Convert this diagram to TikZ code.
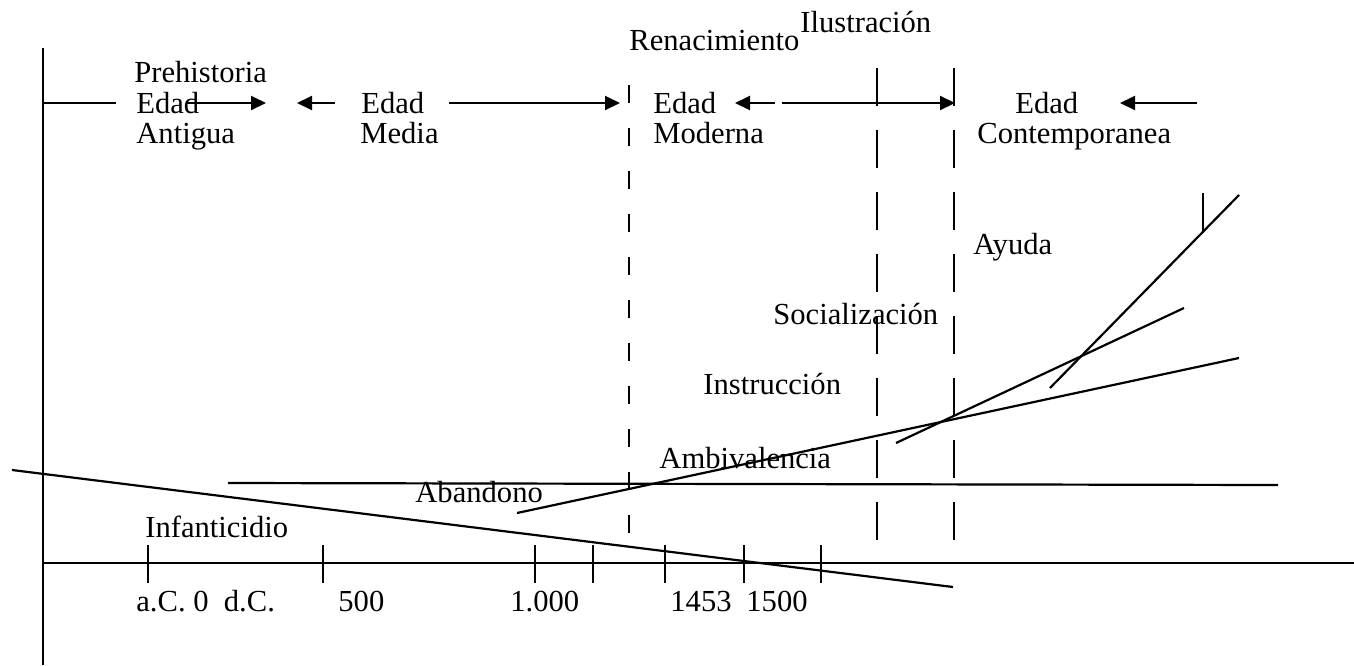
\documentclass[tikz,border=0pt]{standalone}
\usepackage{fontspec}
\setmainfont{Liberation Serif}
\usetikzlibrary{arrows.meta}

\begin{document}
\begin{tikzpicture}[x=0.5pt,y=-0.5pt,
    lbl/.style={anchor=base west,inner sep=0pt,font=\fontsize{15.3}{17}\selectfont},
    yearlbl/.style={anchor=base west,inner sep=0pt,font=\fontsize{15.3}{17}\selectfont},
    axisline/.style={line width=1pt},
    period/.style={line width=1pt,-{Triangle[length=7.5pt,width=7pt]}},
    shortguide/.style={line width=1pt,dash pattern=on 9pt off 12.5pt},
    longguide/.style={line width=1pt,dash pattern=on 19pt off 12pt},
    trend/.style={line width=1.1pt}]
  \useasboundingbox (0,0) rectangle (1354,665);
  %this draws the axes
  \coordinate (ytop) at (43,48);
  \coordinate (ybot) at (43,665);
  \coordinate (xleft) at (43,563);
  \coordinate (xright) at (1354,563);
  \draw[axisline] (ytop) -- (ybot);
  \draw[axisline] (xleft) -- (xright);
  \foreach \x in {148,323,535,593,665,744,821}
    \draw[axisline] (\x,545) -- (\x,583);
  %this draws the years
  \node [yearlbl] (y0) at (136,611) {a.C. 0\ \ d.C.};
  \node [yearlbl] (y500) at (338,611) {500};
  \node [yearlbl] (y1000) at (510,611) {1.000};
  \node [yearlbl] (y1453) at (670,611) {1453};
  \node [yearlbl] (y1500) at (746,611) {1500};
  %this draws the ages
  \node [lbl] (prehist) at (134,82) {Prehistoria};
  \node [lbl] (edadA) at (136,113) {Edad};
  \node [lbl] (antigua) at (136,143) {Antigua};
  \node [lbl] (edadM) at (361,113) {Edad};
  \node [lbl] (media) at (360,143) {Media};
  \node [lbl] (renac) at (629,50) {Renacimiento};
  \node [lbl] (edadMo) at (653,113) {Edad};
  \node [lbl] (moderna) at (653,143) {Moderna};
  \node [lbl] (ilust) at (800,32) {Ilustración};
  \node [lbl] (edadC) at (1015,113) {Edad};
  \node [lbl] (contemp) at (977,143) {Contemporanea};
  %this draws the arrows between the ages
  \coordinate (a0) at (43,103);
  \coordinate (a1) at (116,103);
  \coordinate (a2) at (187,103);
  \coordinate (a3) at (266,103);
  \coordinate (a4) at (335,103);
  \coordinate (a5) at (297,103);
  \coordinate (a6) at (449,103);
  \coordinate (a7) at (620,103);
  \coordinate (a8) at (775,103);
  \coordinate (a9) at (735,103);
  \coordinate (a10) at (782,103);
  \coordinate (a11) at (955,103);
  \coordinate (a12) at (1197,103);
  \coordinate (a13) at (1120,103);
  \draw[axisline] (a0) -- (a1);
  \draw[period] (a2) -- (a3);
  \draw[period] (a4) -- (a5);
  \draw[period] (a6) -- (a7);
  \draw[period] (a8) -- (a9);
  \draw[period] (a10) -- (a11);
  \draw[period] (a12) -- (a13);
  %this draws the dashed guides
  \draw[shortguide] (629,85) -- (629,555);
  \draw[longguide] (877,68) -- (877,555);
  \draw[longguide] (954,68) -- (954,555);
  %this draws the attitudes
  \node [lbl] (ayuda) at (973,254) {Ayuda};
  \node [lbl] (social) at (773,324) {Socialización};
  \node [lbl] (instr) at (703,394) {Instrucción};
  \node [lbl] (ambiv) at (659,468) {Ambivalencia};
  \node [lbl] (aband) at (415,502) {Abandono};
  \node [lbl] (infant) at (145,537) {Infanticidio};
  \coordinate (inf1) at (12,470);
  \coordinate (inf2) at (953,587);
  \coordinate (ab1) at (228,483);
  \coordinate (ab2) at (1278,485);
  \coordinate (am1) at (517,513);
  \coordinate (am2) at (1239,358);
  \coordinate (so1) at (896,443);
  \coordinate (so2) at (1184,308);
  \coordinate (ay1) at (1050,388);
  \coordinate (ay2) at (1239,195);
  \coordinate (ayt1) at (1203,193);
  \coordinate (ayt2) at (1203,233);
  \draw[trend] (inf1) -- (inf2);
  \draw[trend] (ab1) -- (ab2);
  \draw[trend] (am1) -- (am2);
  \draw[trend] (so1) -- (so2);
  \draw[trend] (ay1) -- (ay2);
  \draw[axisline] (ayt1) -- (ayt2);
\end{tikzpicture}
\end{document}
